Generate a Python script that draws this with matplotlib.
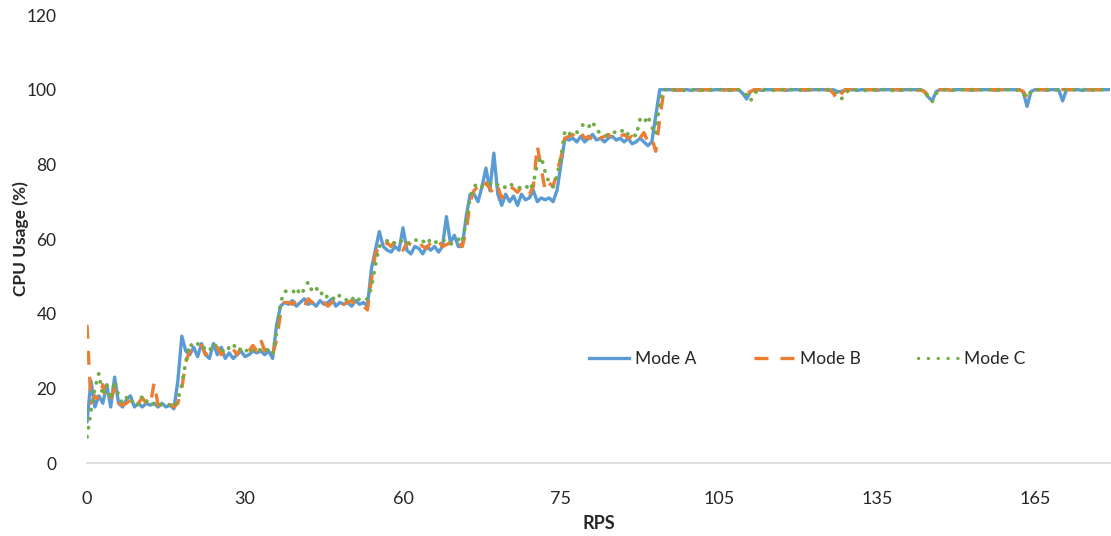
import numpy as np
import matplotlib
matplotlib.use("Agg")
import matplotlib.pyplot as plt
from matplotlib.lines import Line2D

# ---- data: CPU usage samples (%) for each mode, one sample per step ----
mode_a = [
    11, 22, 15, 18, 16, 21, 15, 23, 16, 15, 17, 18, 15, 16, 15, 16, 15.5, 16, 15, 16, 15, 15.5,
    14.5, 22,
    34, 30, 29, 31, 28.5, 32, 29, 28, 32, 29, 31, 28, 29.5, 28, 29, 30, 28.5, 29, 30, 29.5, 30, 29, 30, 28,
    37, 42,
    43, 42.5, 43.5, 42, 43, 44, 42.5, 43, 42, 43.5, 42.5, 43, 44, 42, 43, 42.5, 43, 42, 43.5, 42.5, 43, 42,
    52, 57,
    62, 58, 57, 56.5, 58, 57, 63, 57, 56, 58, 57.5, 56, 58, 57, 58, 56.5, 58, 66, 59, 61, 58, 58,
    66, 72,
    72, 70, 74, 79, 73, 83, 72, 69, 72, 70, 71.5, 69, 72, 70.5, 71, 73, 70, 71, 70.5, 71, 70, 73,
    80, 87,
    86.5, 87, 86, 87.5, 86, 87, 88, 86.5, 87, 86, 87, 87.5, 86.5, 87, 86, 87, 85.5, 86, 87, 86, 85, 86,
    93, 100,
    100, 100, 100, 99.8, 100, 100, 100, 99.8, 100, 100,
    100, 100, 99.8, 100, 100, 100, 100, 99.8, 100, 100,
    99, 97.5, 99.5, 100, 100, 99.8, 100, 100, 100, 100,
    100, 99.8, 100, 100, 100, 100, 99.8, 100, 100, 100,
    100, 100, 99.8, 100, 99.5, 99.5, 100, 100, 100, 99.8,
    100, 100, 100, 100, 99.8, 100, 100, 100, 100, 100,
    99.8, 100, 100, 100, 100, 100, 99.5, 98, 97, 99.5,
    100, 100, 100, 99.8, 100, 100, 100, 100, 99.8, 100,
    100, 100, 100, 100, 99.8, 100, 100, 100, 100, 100,
    100, 99.5, 95.5, 99.5, 100, 100, 100, 99.8, 100, 100,
    100, 97, 100, 100, 100, 100, 99.8, 100, 100, 100,
    100, 100, 100, 100,
]

mode_b = [
    37,
    16, 18, 17, 21, 16.5, 17, 20, 16, 15.5, 16, 17, 15.5, 16, 17.5, 16, 15.5, 21.5, 15.5, 16, 15.5, 16, 15,
    16, 20, 27, 30,
    29.5, 30, 31.5, 29, 30, 29.5, 31, 29, 30, 29.5, 30.5, 29, 31, 29.5, 30, 31.5, 30, 33, 30, 31, 29,
    33, 40, 43,
    43, 42.5, 43.5, 43, 42, 44, 43, 42.5, 43.5, 43, 42, 43, 44, 43, 42.5, 43, 43.5, 42.5, 43, 42, 41,
    49, 56, 58,
    57.5, 59, 58, 59.5, 58, 57, 59, 58.5, 58, 59, 58, 57.5, 59, 58.5, 59.5, 58, 58.5, 59, 58, 59, 58,
    62, 70, 73,
    74, 73, 75, 73.5, 72, 74, 71, 73, 74, 73.5, 72.5, 74, 73, 72, 74, 85, 79, 73, 75, 74, 78,
    82, 87,
    87.5, 88, 87, 88.5, 87, 87.5, 86.5, 88, 87, 87.5, 88, 87, 86.5, 87.5, 88, 87, 87.5, 86, 87, 88.5, 86, 87,
    83.5, 92, 99.5, 100,
    100, 100, 99.8, 100, 100, 100, 100, 99.8, 100, 100,
    100, 100, 100, 99.8, 100, 100, 100, 100, 99.5, 99,
    99.5, 100, 100, 100, 100, 99.8, 100, 100, 100, 100,
    100, 100, 99.8, 100, 100, 100, 100, 100, 99.8, 100,
    100, 99, 97, 99, 100, 100, 100, 100, 99.8, 100,
    100, 100, 100, 100, 100, 99.8, 100, 100, 100, 100,
    100, 100, 99.8, 100, 99.5, 98.5, 99, 100, 100, 100,
    100, 99.8, 100, 100, 100, 100, 100, 100, 99.8, 100,
    100, 100, 100, 100, 100, 100, 99.8, 100, 100, 99.5,
    98, 99.5, 100, 100, 100, 100, 100, 100, 99.8, 100,
    100, 100, 100, 100, 100, 99.8, 100, 100, 100, 100,
    100, 100,
]

mode_c = [
    7, 14, 20, 24, 18, 21, 17, 22, 18, 16, 17.5, 16, 17, 15.5, 18, 16.5, 17, 15.5, 16, 15.5, 16, 15.5, 15,
    17, 21, 27, 32,
    31, 32, 30.5, 31, 30, 32, 31, 30.5, 29.5, 31, 32, 30, 30.5, 29.5, 31, 30, 29.5, 30.5, 31, 30, 29,
    35, 43, 46,
    46, 45.5, 47, 45, 46.5, 48.5, 46, 47, 45, 46, 44, 44.5, 43.5, 45, 44, 43.5, 44.5, 43, 44, 43.5, 44,
    47, 53, 58,
    59, 59.5, 58.5, 59, 60, 59, 58.5, 59.5, 60, 59, 59.5, 58.5, 60, 59, 59.5, 60, 59, 58.5, 59.5, 60, 59,
    65, 71, 74,
    75, 74, 74.5, 75, 74, 74.5, 73.5, 74, 75, 74, 73.5, 74, 74.5, 73, 75, 80, 82, 78, 75, 74, 77,
    82, 89,
    88, 89, 88.5, 90, 91, 90, 91.5, 89, 88.5, 88, 87.5, 88, 89, 88.5, 89.5, 88, 88.5, 87.5, 92, 91, 93, 90,
    88, 97, 100,
    100, 100, 100, 100, 99.8, 100, 100, 100, 100, 99.8,
    100, 100, 100, 100, 100, 99.8, 100, 100, 100, 99.5,
    98.5, 97, 99, 100, 100, 100, 100, 99.8, 100, 100,
    100, 100, 100, 100, 99.8, 100, 100, 100, 100, 100,
    100, 100, 99.8, 99, 97.5, 99, 100, 100, 100, 100,
    99.8, 100, 100, 100, 100, 100, 100, 99.8, 100, 100,
    100, 100, 100, 100, 100, 99.5, 98, 96.8, 99, 100,
    100, 100, 100, 99.8, 100, 100, 100, 100, 100, 100,
    99.8, 100, 100, 100, 100, 100, 100, 100, 99.8, 100,
    99, 98, 99.5, 100, 100, 100, 100, 100, 100, 99.8,
    100, 100, 100, 100, 100, 100, 100, 99.8, 100, 100,
    100, 100, 100,
]

series_names = ["Mode A", "Mode B", "Mode C"]
rps_labels = ["0", "30", "60", "75", "105", "135", "165"]
y_ticks = [0, 20, 40, 60, 80, 100, 120]

# ---- styling ----
colors = ["#5B9BD5", "#ED7D31", "#70AD47"]
LW = 2.4
DASH = (0, (4.2, 3.6))
DOT = (0, (0.05, 2.3))
TEXT_FONT = ["Lato", "DejaVu Sans"]
SAMPLES_PER_LABEL = 40

fig = plt.figure(figsize=(11.11, 5.36), dpi=100)
ax = fig.add_axes([87 / 1111, 73 / 536, 1023 / 1111, 448 / 536])

n = len(mode_a)
x_a = np.arange(len(mode_a))
x_b = np.arange(len(mode_b))
x_c = np.arange(len(mode_c))

ax.plot(x_a, mode_a, color=colors[0], lw=LW, solid_joinstyle="round",
        solid_capstyle="round", label=series_names[0])
ax.plot(x_b, mode_b, color=colors[1], lw=LW, linestyle=DASH,
        dash_capstyle="butt", dash_joinstyle="round", label=series_names[1])
ax.plot(x_c, mode_c, color=colors[2], lw=LW + 0.4, linestyle=DOT,
        dash_capstyle="round", dash_joinstyle="round", label=series_names[2])

ax.set_xlim(0, n - 1)
ax.set_ylim(0, 120)

ax.set_yticks(y_ticks)
ax.set_yticklabels([str(v) for v in y_ticks], fontsize=12.5, family=TEXT_FONT,
                   color="#262626")
ax.set_xticks(np.arange(len(rps_labels)) * SAMPLES_PER_LABEL)
ax.set_xticklabels(rps_labels, fontsize=13, family=TEXT_FONT, color="#262626")
ax.tick_params(axis="both", length=0)
ax.tick_params(axis="y", pad=22)
ax.tick_params(axis="x", pad=20)

for side in ["top", "right", "left"]:
    ax.spines[side].set_visible(False)
ax.spines["bottom"].set_color("#D9D9D9")
ax.spines["bottom"].set_linewidth(1.2)

ax.set_xlabel("RPS", fontsize=13, fontweight="bold", family=TEXT_FONT,
              color="#262626", labelpad=6)
ax.set_ylabel("CPU Usage (%)", fontsize=12.5, fontweight="bold", family=TEXT_FONT,
              color="#262626", labelpad=-2)

handles = [
    Line2D([], [], color=colors[0], lw=LW),
    Line2D([], [], color=colors[1], lw=LW, linestyle=DASH, dash_capstyle="butt"),
    Line2D([], [], color=colors[2], lw=LW, linestyle=(0, (0.05, 2.9)), dash_capstyle="round"),
]
leg = ax.legend(handles, series_names, loc="center", bbox_to_anchor=(0.704, 0.232),
                ncol=3, frameon=False, handlelength=2.3, handletextpad=0.35,
                columnspacing=3.3, prop={"family": TEXT_FONT, "size": 12.5})
for t in leg.get_texts():
    t.set_color("#262626")

fig.savefig("out.png", dpi=100)
